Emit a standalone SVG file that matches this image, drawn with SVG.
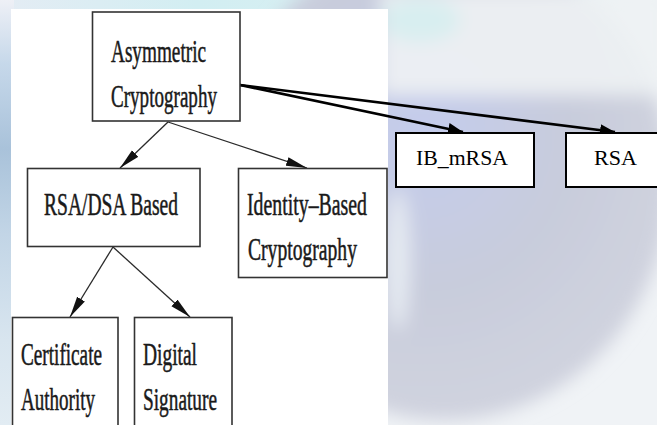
<svg xmlns="http://www.w3.org/2000/svg" width="657" height="425" viewBox="0 0 657 425">
  <style>
    .box { fill: #ffffff; stroke: #333333; stroke-width: 1.6; }
    .box2 { fill: #ffffff; stroke: #000000; stroke-width: 2; }
    .t { font-family: "Liberation Serif", "Times New Roman", serif; font-size: 20px; fill: #1a1a1a; stroke: #1a1a1a; stroke-width: 0.35; }
    .t2 { font-family: "Liberation Serif", "Times New Roman", serif; font-size: 21px; fill: #000000; }
    .thin { fill: none; stroke: #2a2a2a; stroke-width: 1.3; }
    .thick { fill: none; stroke: #000000; stroke-width: 2.6; }
  </style>
  <defs>
    <marker id="headThick" markerUnits="userSpaceOnUse" markerWidth="16" markerHeight="12" refX="15" refY="6" orient="auto">
      <path d="M0,0 L15,6 L0,12 Z" fill="#000000"/>
    </marker>
    <marker id="headThin" markerUnits="userSpaceOnUse" markerWidth="22" markerHeight="10" refX="21" refY="5" orient="auto">
      <path d="M0,0.5 L21,5 L0,9.5 Z" fill="#111111"/>
    </marker>
    <filter id="blur" x="-30%" y="-30%" width="160%" height="160%">
      <feGaussianBlur stdDeviation="9"/>
    </filter>
    <linearGradient id="topStrip" x1="0" y1="0" x2="1" y2="0">
      <stop offset="0" stop-color="#e4ecf4"/>
      <stop offset="0.3" stop-color="#d2eef2"/>
      <stop offset="0.7" stop-color="#dcf0f2"/>
      <stop offset="1" stop-color="#eef4f4"/>
    </linearGradient>
    <linearGradient id="leftStrip" x1="0" y1="0" x2="0" y2="1">
      <stop offset="0" stop-color="#eef0f6"/>
      <stop offset="0.15" stop-color="#c6d8ea"/>
      <stop offset="0.35" stop-color="#a9c2da"/>
      <stop offset="0.55" stop-color="#c2d5e6"/>
      <stop offset="0.8" stop-color="#d8e5ef"/>
      <stop offset="1" stop-color="#e2ecf3"/>
    </linearGradient>
    <radialGradient id="disk" cx="0.45" cy="0.4" r="0.55">
      <stop offset="0" stop-color="#c4ccec"/>
      <stop offset="0.6" stop-color="#c8ccdc"/>
      <stop offset="1" stop-color="#cfd2de"/>
    </radialGradient>
  </defs>

  <!-- background -->
  <rect x="0" y="0" width="657" height="425" fill="#f0f3f6"/>
  <rect x="0" y="0" width="657" height="12" fill="url(#topStrip)"/>
  <rect x="0" y="0" width="14" height="425" fill="url(#leftStrip)"/>
  <g filter="url(#blur)">
    <ellipse cx="445" cy="180" rx="225" ry="240" fill="url(#disk)"/>
    <rect x="380" y="-10" width="290" height="105" fill="#eef2f4" opacity="0.9"/>
    <ellipse cx="420" cy="20" rx="40" ry="22" fill="#d8eef0"/>
    <ellipse cx="398" cy="260" rx="12" ry="70" fill="#e6ebf2"/>
  </g>
  <rect x="11" y="9" width="377" height="416" fill="#ffffff"/>

  <!-- connectors -->
  <g id="connectors">
    <path class="thick" d="M240,85 L463,132" marker-end="url(#headThick)"/>
    <path class="thick" d="M240,85 L615,132" marker-end="url(#headThick)"/>
    <path class="thin" d="M168,122 L120,168" marker-end="url(#headThin)"/>
    <path class="thin" d="M168,122 L307,168" marker-end="url(#headThin)"/>
    <path class="thin" d="M113,247 L70,317" marker-end="url(#headThin)"/>
    <path class="thin" d="M113,247 L190,317" marker-end="url(#headThin)"/>
  </g>

  <!-- nodes -->
  <g id="asymmetric">
    <rect class="box" x="92.5" y="12" width="147.5" height="109"/>
    <text class="t" transform="translate(111,62) scale(1,1.55)" textLength="95" lengthAdjust="spacingAndGlyphs">Asymmetric</text>
    <text class="t" transform="translate(111,107) scale(1,1.55)" textLength="106" lengthAdjust="spacingAndGlyphs">Cryptography</text>
  </g>
  <g id="rsadsa">
    <rect class="box" x="27.5" y="168.5" width="172.5" height="78"/>
    <text class="t" transform="translate(44,215) scale(1,1.55)" textLength="134" lengthAdjust="spacingAndGlyphs">RSA/DSA Based</text>
  </g>
  <g id="identity">
    <rect class="box" x="238.5" y="168.5" width="148.5" height="109"/>
    <text class="t" transform="translate(247,215) scale(1,1.55)" textLength="120" lengthAdjust="spacingAndGlyphs">Identity–Based</text>
    <text class="t" transform="translate(248,260) scale(1,1.55)" textLength="109" lengthAdjust="spacingAndGlyphs">Cryptography</text>
  </g>
  <g id="certificate">
    <rect class="box" x="12.5" y="317.5" width="105.5" height="120"/>
    <text class="t" transform="translate(21,365) scale(1,1.55)" textLength="81" lengthAdjust="spacingAndGlyphs">Certificate</text>
    <text class="t" transform="translate(21,410) scale(1,1.55)" textLength="74" lengthAdjust="spacingAndGlyphs">Authority</text>
  </g>
  <g id="digital">
    <rect class="box" x="134.5" y="317.5" width="97.5" height="120"/>
    <text class="t" transform="translate(143,365) scale(1,1.55)" textLength="54" lengthAdjust="spacingAndGlyphs">Digital</text>
    <text class="t" transform="translate(143,410) scale(1,1.55)" textLength="74" lengthAdjust="spacingAndGlyphs">Signature</text>
  </g>
  <g id="ibmrsa">
    <rect class="box2" x="396" y="133" width="138" height="54"/>
    <text class="t2" x="416" y="165" textLength="92" lengthAdjust="spacingAndGlyphs">IB_mRSA</text>
  </g>
  <g id="rsa">
    <rect class="box2" x="566" y="133" width="100" height="54"/>
    <text class="t2" x="594" y="165" textLength="43" lengthAdjust="spacingAndGlyphs">RSA</text>
  </g>
</svg>
